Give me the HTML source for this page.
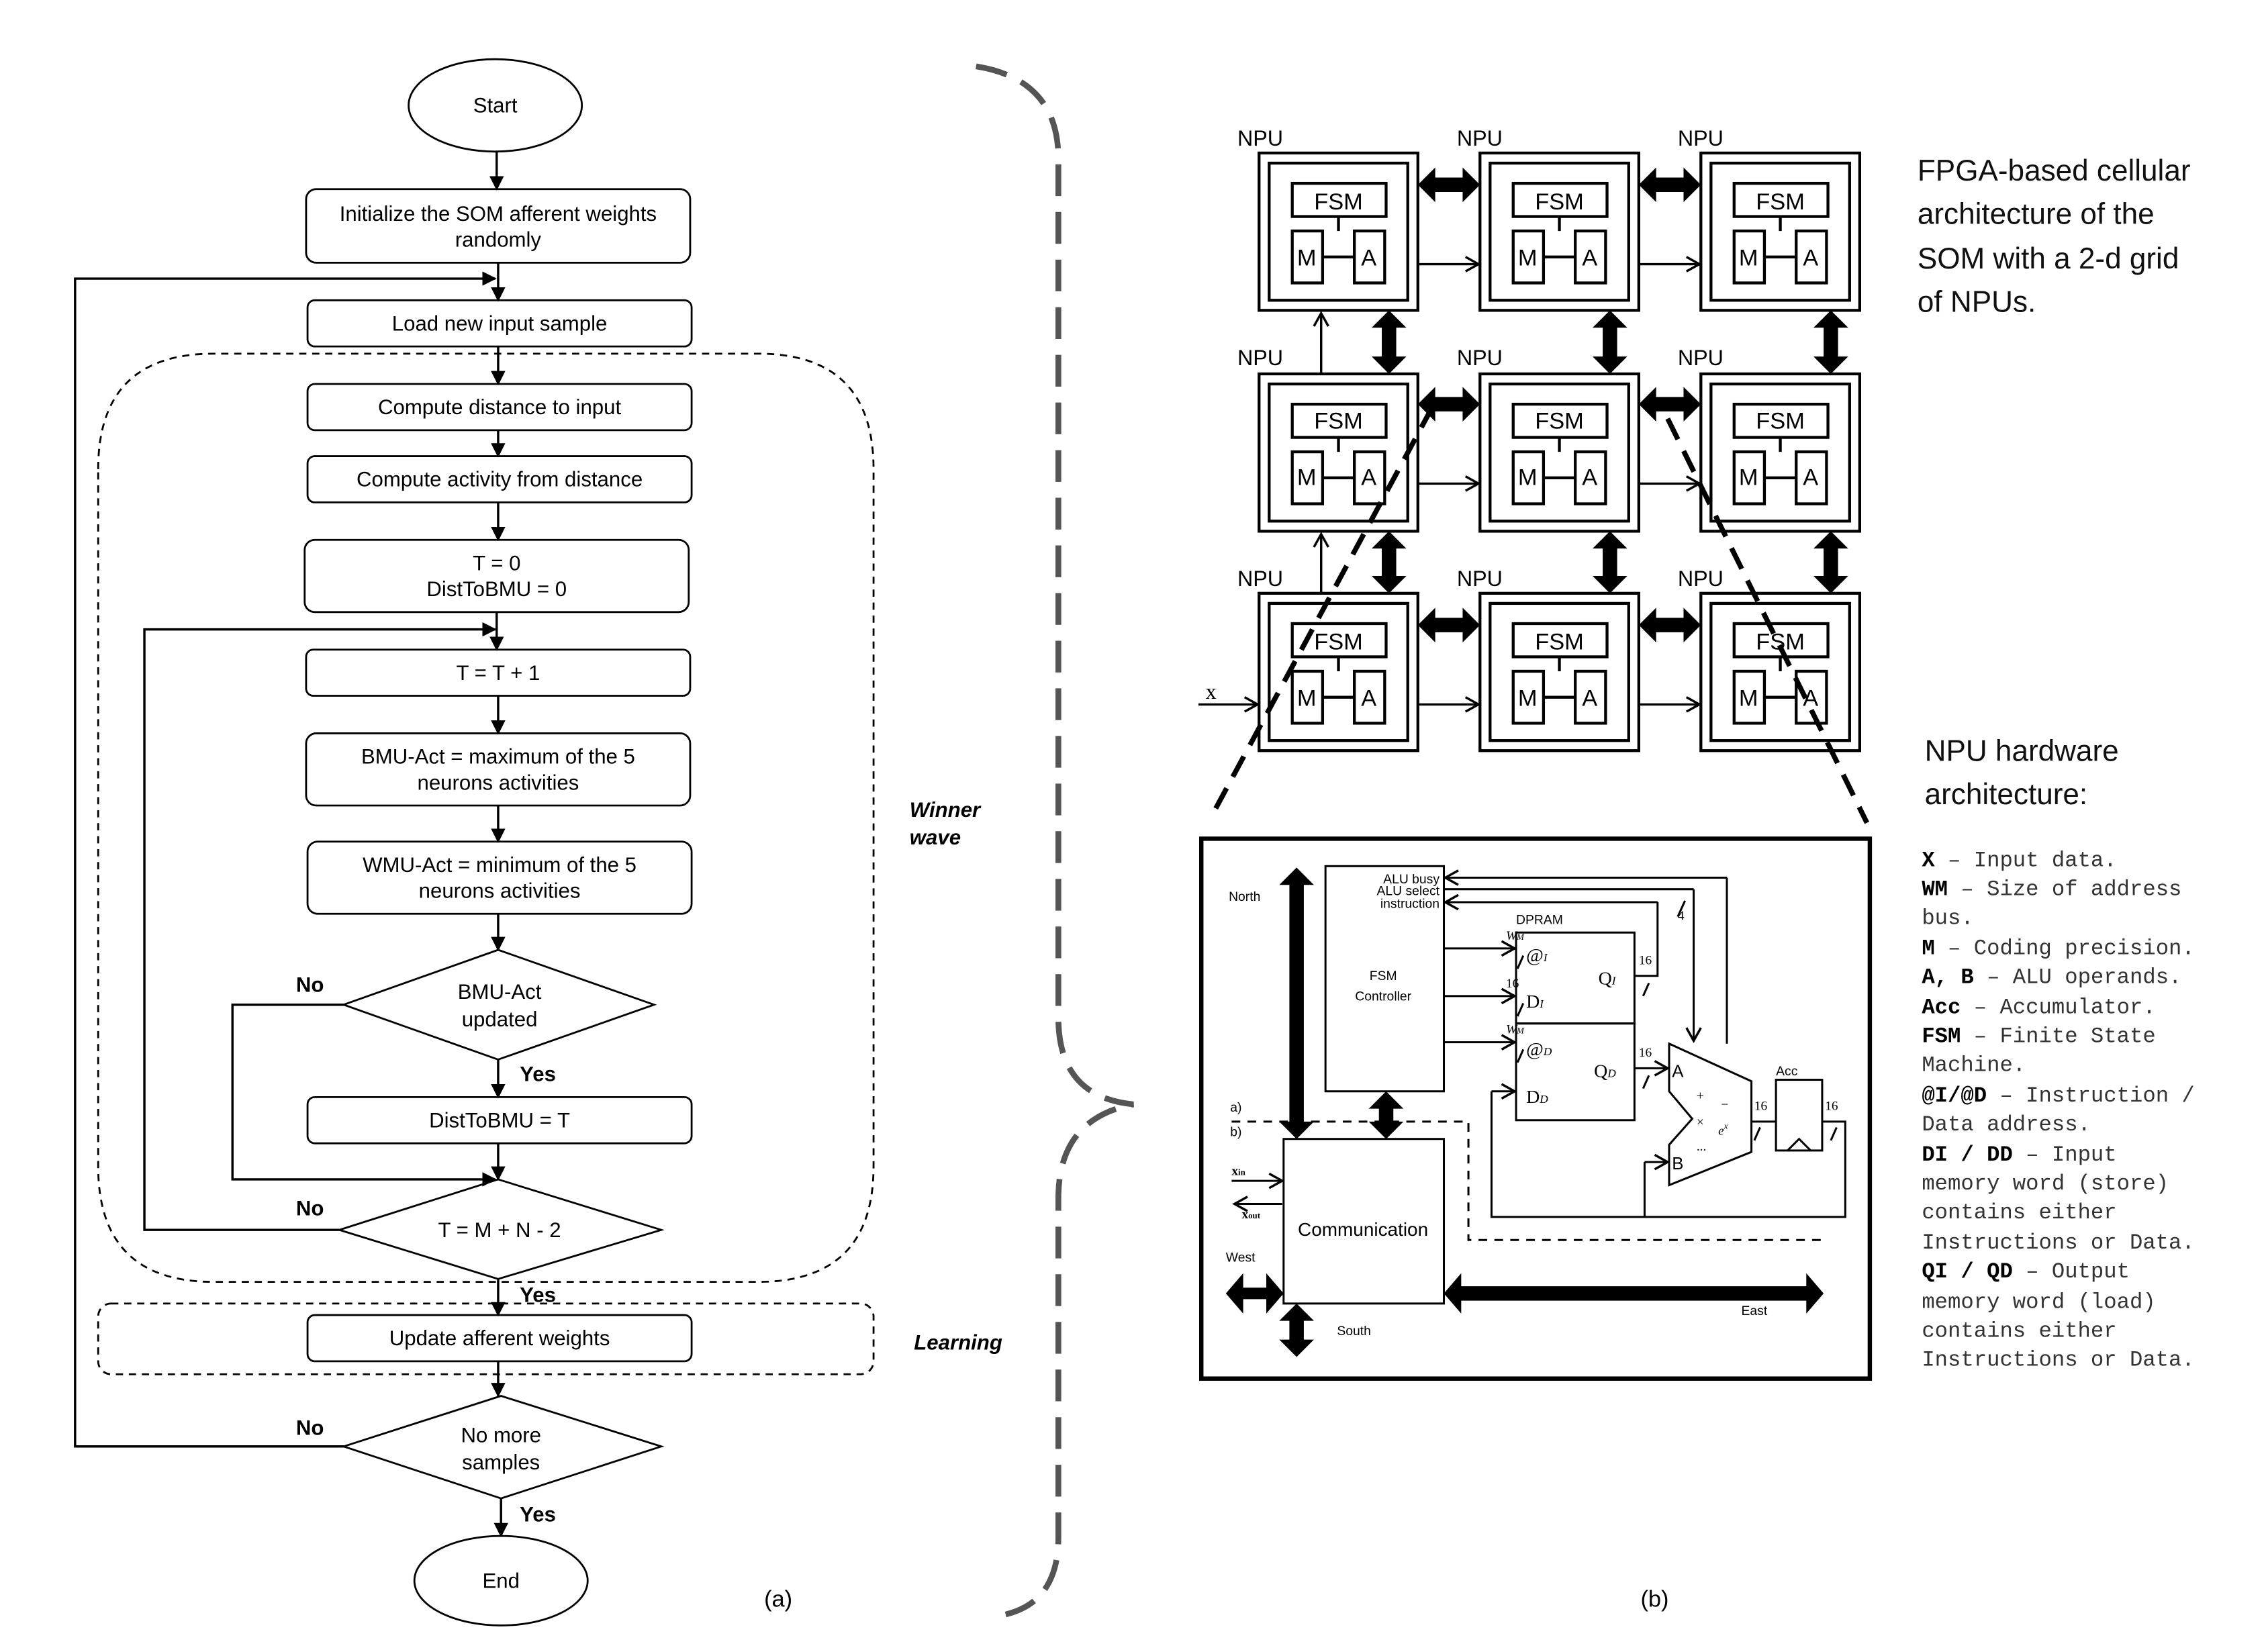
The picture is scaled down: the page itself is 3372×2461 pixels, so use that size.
<!DOCTYPE html>
<html><head><meta charset="utf-8"><style>html,body{margin:0;padding:0;background:#fff}svg{display:block}</style></head>
<body>
<svg width="3372" height="2461" viewBox="0 0 1568 1144.4" preserveAspectRatio="none" xmlns="http://www.w3.org/2000/svg" font-family="Liberation Sans, sans-serif">
<defs>
<marker id="ar" markerWidth="10" markerHeight="10" refX="9" refY="5" orient="auto" markerUnits="userSpaceOnUse"><path d="M0,0 L10,5 L0,10 z" fill="#000"/></marker>
<marker id="ao" markerWidth="12" markerHeight="12" refX="10" refY="6" orient="auto" markerUnits="userSpaceOnUse"><path d="M1,1 L10,6 L1,11" fill="none" stroke="#000" stroke-width="1.6"/></marker>
</defs>
<rect width="1568" height="1145" fill="#fff"/>
<g fill="none" stroke="#000" stroke-width="1.3">
<ellipse cx="343" cy="73" rx="60" ry="32"/>
<rect x="212" y="131" width="266" height="51" rx="7"/>
<rect x="213" y="208" width="266" height="32" rx="5"/>
<rect x="213" y="266" width="266" height="32" rx="5"/>
<rect x="213" y="316" width="266" height="32" rx="5"/>
<rect x="211" y="374" width="266" height="50" rx="7"/>
<rect x="212" y="450" width="266" height="32" rx="5"/>
<rect x="212" y="508" width="266" height="50" rx="7"/>
<rect x="213" y="583" width="266" height="50" rx="7"/>
<polygon points="238,696 345,658 453,696 345,734"/>
<rect x="213" y="760" width="266" height="32" rx="5"/>
<polygon points="235,852 345,817 458,852 345,886"/>
<rect x="213" y="911" width="266" height="32" rx="5"/>
<polygon points="238,1002 347,967 458,1002 347,1038"/>
<ellipse cx="347" cy="1095" rx="60" ry="31"/>
<path d="M68,325 Q68,245 148,245 L525,245 Q605,245 605,325 L605,808 Q605,888 525,888 L148,888 Q68,888 68,808 Z" stroke-dasharray="5,4"/>
<rect x="68" y="903" width="537" height="49" rx="9" stroke-dasharray="5,4"/>
</g>
<g fill="none" stroke="#000" stroke-width="1.6" marker-end="url(#ar)">
<path d="M344,105 V131"/><path d="M345,182 V208"/><path d="M345,240 V266"/><path d="M345,298 V316"/>
<path d="M345,348 V374"/><path d="M344,424 V450"/><path d="M345,482 V508"/><path d="M345,558 V583"/>
<path d="M345,633 V658"/><path d="M345,734 V760"/><path d="M345,792 V817"/><path d="M345,886 V911"/>
<path d="M345,943 V967"/><path d="M347,1038 V1064"/>
<path d="M238,1002 H52 V193 H343"/><path d="M235,852 H100 V436 H343"/><path d="M238,696 H161 V817 H343"/>
</g>
<g font-size="14.5" text-anchor="middle" fill="#000">
<text x="343" y="78">Start</text>
<text x="345" y="153">Initialize the SOM afferent weights</text><text x="345" y="171">randomly</text>
<text x="346" y="229">Load new input sample</text>
<text x="346" y="287">Compute distance to input</text>
<text x="346" y="337">Compute activity from distance</text>
<text x="344" y="395">T = 0</text><text x="344" y="413">DistToBMU = 0</text>
<text x="345" y="471">T = T + 1</text>
<text x="345" y="529">BMU-Act = maximum of the 5</text><text x="345" y="547">neurons activities</text>
<text x="346" y="604">WMU-Act = minimum of the 5</text><text x="346" y="622">neurons activities</text>
<text x="346" y="692">BMU-Act</text><text x="346" y="711">updated</text>
<text x="346" y="781">DistToBMU = T</text>
<text x="346" y="857">T = M + N - 2</text>
<text x="346" y="932">Update afferent weights</text>
<text x="347" y="999">No more</text><text x="347" y="1018">samples</text>
<text x="347" y="1100">End</text>
<text x="539" y="1113" font-size="16">(a)</text><text x="1146" y="1113" font-size="16">(b)</text>
</g>
<g font-size="14.5" font-weight="bold" fill="#000">
<text x="205" y="687">No</text><text x="360" y="749">Yes</text>
<text x="205" y="842">No</text><text x="360" y="902">Yes</text>
<text x="205" y="994">No</text><text x="360" y="1054">Yes</text>
<g font-style="italic"><text x="630" y="566">Winner</text><text x="630" y="585">wave</text><text x="633" y="935">Learning</text></g>
</g>
<path d="M676,46 Q733,55 733,110 L733,705 Q733,760 785,765 Q733,775 733,830 L733,1065 Q733,1115 687,1120" fill="none" stroke="#555" stroke-width="4" stroke-dasharray="22,11"/>
<!-- NPU grid -->
<g fill="none" stroke="#000" stroke-width="2">
<g transform="translate(872,106)"><rect width="110" height="109"/><rect x="7" y="7" width="96" height="95"/><rect x="23" y="21" width="65" height="23"/><rect x="23" y="54" width="21" height="36"/><rect x="66" y="54" width="21" height="36"/><path d="M44,72 H66 M55,44 V54"/></g>
<g transform="translate(1025,106)"><rect width="110" height="109"/><rect x="7" y="7" width="96" height="95"/><rect x="23" y="21" width="65" height="23"/><rect x="23" y="54" width="21" height="36"/><rect x="66" y="54" width="21" height="36"/><path d="M44,72 H66 M55,44 V54"/></g>
<g transform="translate(1178,106)"><rect width="110" height="109"/><rect x="7" y="7" width="96" height="95"/><rect x="23" y="21" width="65" height="23"/><rect x="23" y="54" width="21" height="36"/><rect x="66" y="54" width="21" height="36"/><path d="M44,72 H66 M55,44 V54"/></g>
<g transform="translate(872,259)"><rect width="110" height="109"/><rect x="7" y="7" width="96" height="95"/><rect x="23" y="21" width="65" height="23"/><rect x="23" y="54" width="21" height="36"/><rect x="66" y="54" width="21" height="36"/><path d="M44,72 H66 M55,44 V54"/></g>
<g transform="translate(1025,259)"><rect width="110" height="109"/><rect x="7" y="7" width="96" height="95"/><rect x="23" y="21" width="65" height="23"/><rect x="23" y="54" width="21" height="36"/><rect x="66" y="54" width="21" height="36"/><path d="M44,72 H66 M55,44 V54"/></g>
<g transform="translate(1178,259)"><rect width="110" height="109"/><rect x="7" y="7" width="96" height="95"/><rect x="23" y="21" width="65" height="23"/><rect x="23" y="54" width="21" height="36"/><rect x="66" y="54" width="21" height="36"/><path d="M44,72 H66 M55,44 V54"/></g>
<g transform="translate(872,411)"><rect width="110" height="109"/><rect x="7" y="7" width="96" height="95"/><rect x="23" y="21" width="65" height="23"/><rect x="23" y="54" width="21" height="36"/><rect x="66" y="54" width="21" height="36"/><path d="M44,72 H66 M55,44 V54"/></g>
<g transform="translate(1025,411)"><rect width="110" height="109"/><rect x="7" y="7" width="96" height="95"/><rect x="23" y="21" width="65" height="23"/><rect x="23" y="54" width="21" height="36"/><rect x="66" y="54" width="21" height="36"/><path d="M44,72 H66 M55,44 V54"/></g>
<g transform="translate(1178,411)"><rect width="110" height="109"/><rect x="7" y="7" width="96" height="95"/><rect x="23" y="21" width="65" height="23"/><rect x="23" y="54" width="21" height="36"/><rect x="66" y="54" width="21" height="36"/><path d="M44,72 H66 M55,44 V54"/></g>
</g>
<g fill="#000">
<polygon transform="translate(982,128)" points="0,0 12,-12 12,-5 31,-5 31,-12 43,0 31,12 31,5 12,5 12,12"/>
<polygon transform="translate(1135,128)" points="0,0 12,-12 12,-5 31,-5 31,-12 43,0 31,12 31,5 12,5 12,12"/>
<polygon transform="translate(982,280)" points="0,0 12,-12 12,-5 31,-5 31,-12 43,0 31,12 31,5 12,5 12,12"/>
<polygon transform="translate(1135,280)" points="0,0 12,-12 12,-5 31,-5 31,-12 43,0 31,12 31,5 12,5 12,12"/>
<polygon transform="translate(982,433)" points="0,0 12,-12 12,-5 31,-5 31,-12 43,0 31,12 31,5 12,5 12,12"/>
<polygon transform="translate(1135,433)" points="0,0 12,-12 12,-5 31,-5 31,-12 43,0 31,12 31,5 12,5 12,12"/>
<polygon transform="translate(962,215)" points="0,0 -12,12 -5,12 -5,32 -12,32 0,44 12,32 5,32 5,12 12,12"/>
<polygon transform="translate(1115,215)" points="0,0 -12,12 -5,12 -5,32 -12,32 0,44 12,32 5,32 5,12 12,12"/>
<polygon transform="translate(1268,215)" points="0,0 -12,12 -5,12 -5,32 -12,32 0,44 12,32 5,32 5,12 12,12"/>
<polygon transform="translate(962,368)" points="0,0 -12,12 -5,12 -5,31 -12,31 0,43 12,31 5,31 5,12 12,12"/>
<polygon transform="translate(1115,368)" points="0,0 -12,12 -5,12 -5,31 -12,31 0,43 12,31 5,31 5,12 12,12"/>
<polygon transform="translate(1268,368)" points="0,0 -12,12 -5,12 -5,31 -12,31 0,43 12,31 5,31 5,12 12,12"/>
</g>
<g fill="none" stroke="#000" stroke-width="1.6" marker-end="url(#ao)">
<path d="M982,183 H1024"/><path d="M1135,183 H1177"/>
<path d="M982,335 H1024"/><path d="M1135,335 H1177"/>
<path d="M982,488 H1024"/><path d="M1135,488 H1177"/>
<path d="M915,259 V217"/><path d="M915,411 V370"/>
<path d="M830,488 H871"/>
</g>
<g font-size="15" fill="#000">
<text x="857" y="101">NPU</text><text x="1009" y="101">NPU</text><text x="1162" y="101">NPU</text>
<text x="857" y="253">NPU</text><text x="1009" y="253">NPU</text><text x="1162" y="253">NPU</text>
<text x="857" y="406">NPU</text><text x="1009" y="406">NPU</text><text x="1162" y="406">NPU</text>
<text x="835" y="484" font-family="Liberation Serif, serif">x</text>
</g>
<g font-size="16" fill="#000" text-anchor="middle">
<text x="927" y="145">FSM</text><text x="905" y="184">M</text><text x="948" y="184">A</text>
<text x="1080" y="145">FSM</text><text x="1058" y="184">M</text><text x="1101" y="184">A</text>
<text x="1233" y="145">FSM</text><text x="1211" y="184">M</text><text x="1254" y="184">A</text>
<text x="927" y="297">FSM</text><text x="905" y="336">M</text><text x="948" y="336">A</text>
<text x="1080" y="297">FSM</text><text x="1058" y="336">M</text><text x="1101" y="336">A</text>
<text x="1233" y="297">FSM</text><text x="1211" y="336">M</text><text x="1254" y="336">A</text>
<text x="927" y="450">FSM</text><text x="905" y="489">M</text><text x="948" y="489">A</text>
<text x="1080" y="450">FSM</text><text x="1058" y="489">M</text><text x="1101" y="489">A</text>
<text x="1233" y="450">FSM</text><text x="1211" y="489">M</text><text x="1254" y="489">A</text>
</g>
<g stroke="#000" stroke-width="3.5" stroke-dasharray="16,9"><path d="M992,282 L842,560"/><path d="M1155,290 L1293,570"/></g>
<!-- detail box -->
<rect x="832" y="581" width="463" height="374" fill="#fff" stroke="#000" stroke-width="3"/>
<g fill="none" stroke="#000" stroke-width="1.4">
<rect x="918" y="600" width="82" height="156"/>
<rect x="889" y="789" width="111" height="114"/>
<rect x="1050" y="646" width="82" height="63"/>
<rect x="1050" y="709" width="82" height="67"/>
<polygon points="1156,723 1213,749 1213,798 1156,821 1156,793 1172,775 1156,756"/>
<rect x="1230" y="748" width="32" height="49"/>
<path d="M1238,797 L1246,789 L1254,797"/>
<path d="M1213,777 H1230 M1262,777 H1278 V843 H1033 V756 M1139,843 V805"/>
<path d="M1196,723 V608 M1000,616 H1173 M1132,676 H1148 V625"/>
<path d="M1167,624 l-5,11 M1055,662 l-4,9 M1055,695 l-4,9 M1055,727 l-4,9 M1142,681 l-4,9 M1142,745 l-4,9 M1219,781 l-4,9 M1272,781 l-4,9"/>
<path d="M853,777 H1017 V859 H1263" stroke-dasharray="6,5"/>
</g>
<g fill="none" stroke="#000" stroke-width="1.4" marker-end="url(#ao)">
<path d="M1196,608 H1001"/><path d="M1148,625 H1001"/><path d="M1173,616 V721"/>
<path d="M1000,657 H1049"/><path d="M1000,690 H1049"/><path d="M1000,722 H1049"/>
<path d="M1132,740 H1155"/><path d="M1033,756 H1049"/><path d="M1139,805 H1155"/>
<path d="M853,818 H888"/><path d="M888,834 H855"/>
</g>
<g fill="#000">
<polygon points="898,601 910,613 903,613 903,777 910,777 898,789 886,777 893,777 893,613 886,613"/>
<polygon points="960,756 972,768 965,768 965,777 972,777 960,789 948,777 955,777 955,768 948,768"/>
<polygon points="898,903 910,915 903,915 903,928 910,928 898,940 886,928 893,928 893,915 886,915"/>
<polygon points="849,896 861,882 861,892 877,892 877,882 889,896 877,910 877,900 861,900 861,910"/>
<polygon points="1000,896 1012,882 1012,891 1251,891 1251,882 1263,896 1251,910 1251,901 1012,901 1012,910"/>
</g>
<g font-size="9" fill="#000">
<text x="851" y="624">North</text><text x="849" y="874">West</text><text x="926" y="925">South</text><text x="1206" y="911">East</text>
<text x="997" y="612" text-anchor="end">ALU busy</text><text x="997" y="620" text-anchor="end">ALU select</text><text x="997" y="629" text-anchor="end">instruction</text>
<text x="1050" y="640">DPRAM</text><text x="1230" y="745">Acc</text>
<text x="958" y="679" text-anchor="middle">FSM</text><text x="958" y="693" text-anchor="middle">Controller</text>
<text x="852" y="770">a)</text><text x="852" y="787">b)</text>
<text x="944" y="856" font-size="13" text-anchor="middle">Communication</text>
</g>
<g font-family="Liberation Serif, serif" fill="#000" font-size="9">
<text x="1043" y="651" font-style="italic">W<tspan font-size="6">M</tspan></text>
<text x="1043" y="684">16</text>
<text x="1043" y="716" font-style="italic">W<tspan font-size="6">M</tspan></text>
<text x="1135" y="668">16</text><text x="1135" y="732">16</text><text x="1215" y="769">16</text><text x="1264" y="769">16</text>
<text x="1162" y="637">4</text>
<text x="853" y="814" font-weight="bold">x<tspan font-size="6">in</tspan></text>
<text x="860" y="844" font-weight="bold">x<tspan font-size="6">out</tspan></text>
<g font-size="13"><text x="1057" y="666">@<tspan font-size="8" font-style="italic">I</tspan></text><text x="1057" y="698">D<tspan font-size="8" font-style="italic">I</tspan></text>
<text x="1057" y="731">@<tspan font-size="8" font-style="italic">D</tspan></text><text x="1057" y="764">D<tspan font-size="8" font-style="italic">D</tspan></text>
<text x="1107" y="682">Q<tspan font-size="8" font-style="italic">I</tspan></text><text x="1104" y="746">Q<tspan font-size="8" font-style="italic">D</tspan></text>
<text x="1158" y="746" font-family="Liberation Sans, sans-serif" font-size="12">A</text><text x="1158" y="810" font-family="Liberation Sans, sans-serif" font-size="12">B</text></g>
<text x="1175" y="762">+</text><text x="1192" y="768">−</text><text x="1175" y="780">×</text><text x="1190" y="786" font-style="italic">e<tspan font-size="6" dy="-4">x</tspan></text><text x="1175" y="797">...</text>
</g>
<!-- right text -->
<g font-size="20.5" fill="#111">
<text x="1328" y="125">FPGA-based cellular</text><text x="1328" y="155">architecture of the</text>
<text x="1328" y="186">SOM with a 2-d grid</text><text x="1328" y="216">of NPUs.</text>
<text x="1333" y="527">NPU hardware</text><text x="1333" y="557">architecture:</text>
</g>
<g font-family="Liberation Mono, monospace" font-size="15" fill="#333">
<text x="1331" y="600"><tspan font-weight="bold" fill="#000">X</tspan> – Input data.</text>
<text x="1331" y="620"><tspan font-weight="bold" fill="#000">WM</tspan> – Size of address</text>
<text x="1331" y="640">bus.</text>
<text x="1331" y="661"><tspan font-weight="bold" fill="#000">M</tspan> – Coding precision.</text>
<text x="1331" y="681"><tspan font-weight="bold" fill="#000">A, B</tspan> – ALU operands.</text>
<text x="1331" y="702"><tspan font-weight="bold" fill="#000">Acc</tspan> – Accumulator.</text>
<text x="1331" y="722"><tspan font-weight="bold" fill="#000">FSM</tspan> – Finite State</text>
<text x="1331" y="742">Machine.</text>
<text x="1331" y="763"><tspan font-weight="bold" fill="#000">@I/@D</tspan> – Instruction /</text>
<text x="1331" y="783">Data address.</text>
<text x="1331" y="804"><tspan font-weight="bold" fill="#000">DI / DD</tspan> – Input</text>
<text x="1331" y="824">memory word (store)</text>
<text x="1331" y="844">contains either</text>
<text x="1331" y="865">Instructions or Data.</text>
<text x="1331" y="885"><tspan font-weight="bold" fill="#000">QI / QD</tspan> – Output</text>
<text x="1331" y="906">memory word (load)</text>
<text x="1331" y="926">contains either</text>
<text x="1331" y="946">Instructions or Data.</text>
</g>
</svg>
</body></html>
